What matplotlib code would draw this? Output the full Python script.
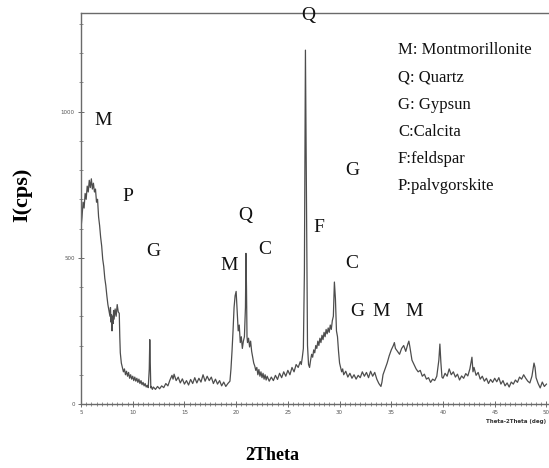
import matplotlib
matplotlib.use("Agg")
import matplotlib.pyplot as plt
from matplotlib.ticker import MultipleLocator

# ---- data ----
two_theta = [
    5.0, 5.1, 5.2, 5.3, 5.4, 5.5, 5.6, 5.7, 5.8, 5.9, 6.0, 6.1, 6.2, 6.3, 6.4, 6.5, 6.6, 6.7, 6.8, 6.9,
    7.0, 7.1, 7.2, 7.3, 7.4, 7.5, 7.6, 7.7, 7.8, 7.85, 7.9, 7.95, 8.0, 8.05, 8.1, 8.15, 8.2, 8.3, 8.4, 8.5,
    8.6, 8.7, 8.75, 8.8, 8.9, 9.0, 9.1, 9.2, 9.3, 9.4, 9.5, 9.6, 9.7, 9.8, 9.9, 10.0, 10.1, 10.2, 10.3, 10.4,
    10.5, 10.6, 10.7, 10.8, 10.9, 11.0, 11.1, 11.2, 11.3, 11.4, 11.5, 11.6, 11.65, 11.7, 11.75, 11.8, 11.9, 12.0, 12.2, 12.4,
    12.6, 12.8, 13.0, 13.2, 13.4, 13.6, 13.8, 13.9, 14.0, 14.2, 14.4, 14.6, 14.8, 15.0, 15.2, 15.4, 15.6, 15.8, 16.0, 16.2,
    16.4, 16.6, 16.8, 17.0, 17.2, 17.4, 17.6, 17.8, 18.0, 18.2, 18.4, 18.6, 18.8, 19.0, 19.2, 19.4, 19.5, 19.6, 19.7, 19.8,
    19.9, 20.0, 20.1, 20.2, 20.3, 20.4, 20.5, 20.6, 20.7, 20.8, 20.9, 20.95, 21.0, 21.05, 21.1, 21.2, 21.3, 21.4, 21.5, 21.6,
    21.7, 21.8, 21.9, 22.0, 22.1, 22.2, 22.3, 22.4, 22.5, 22.6, 22.7, 22.8, 22.9, 23.0, 23.2, 23.4, 23.6, 23.8, 24.0, 24.2,
    24.4, 24.6, 24.8, 25.0, 25.2, 25.4, 25.6, 25.8, 26.0, 26.2, 26.3, 26.4, 26.5, 26.6, 26.7, 26.8, 26.9, 27.0, 27.1, 27.2,
    27.3, 27.4, 27.5, 27.6, 27.7, 27.8, 27.9, 28.0, 28.1, 28.2, 28.3, 28.4, 28.5, 28.6, 28.7, 28.8, 28.9, 29.0, 29.1, 29.2,
    29.3, 29.4, 29.5, 29.6, 29.7, 29.8, 29.9, 30.0, 30.1, 30.2, 30.3, 30.4, 30.6, 30.8, 31.0, 31.2, 31.4, 31.6, 31.8, 32.0,
    32.2, 32.4, 32.6, 32.8, 33.0, 33.2, 33.4, 33.6, 33.8, 34.0, 34.1, 34.2, 34.4, 34.6, 34.8, 35.0, 35.2, 35.3, 35.4, 35.6,
    35.8, 36.0, 36.2, 36.4, 36.6, 36.7, 36.8, 37.0, 37.2, 37.4, 37.6, 37.8, 38.0, 38.2, 38.4, 38.6, 38.8, 39.0, 39.2, 39.4,
    39.6, 39.7, 39.8, 39.9, 40.0, 40.2, 40.4, 40.6, 40.8, 41.0, 41.2, 41.4, 41.6, 41.8, 42.0, 42.2, 42.4, 42.6, 42.8, 42.9,
    43.0, 43.2, 43.4, 43.6, 43.8, 44.0, 44.2, 44.4, 44.6, 44.8, 45.0, 45.2, 45.4, 45.6, 45.8, 46.0, 46.2, 46.4, 46.6, 46.8,
    47.0, 47.2, 47.4, 47.6, 47.8, 48.0, 48.2, 48.4, 48.6, 48.8, 48.9, 49.0, 49.2, 49.4, 49.6, 49.8, 50.0,
]
intensity = [
    600, 640, 690, 670, 720, 700, 745, 725, 765, 740, 770, 735, 755, 725, 735, 690, 700, 640, 610, 570,
    540, 495, 470, 430, 405, 370, 340, 320, 300, 330, 280, 305, 250, 300, 275, 320, 290, 325, 300, 340,
    315, 310, 230, 175, 140, 125, 110, 120, 100, 112, 95, 108, 88, 100, 85, 95, 80, 92, 78, 88,
    74, 85, 70, 80, 66, 74, 62, 70, 58, 64, 56, 120, 220, 130, 55, 60, 50, 58, 50, 60,
    52, 62, 56, 70, 62, 82, 98, 85, 102, 80, 92, 72, 86, 68, 80, 65, 84, 70, 90, 72,
    88, 75, 100, 78, 95, 80, 92, 70, 85, 68, 80, 62, 75, 60, 70, 78, 120, 180, 250, 330,
    370, 385, 320, 250, 270, 210, 230, 190, 215, 230, 330, 515, 400, 230, 210, 225, 195, 215, 180, 160,
    140, 130, 115, 125, 100, 118, 95, 110, 90, 105, 85, 100, 82, 95, 78, 92, 80, 98, 84, 105,
    90, 110, 95, 115, 100, 125, 110, 135, 125, 145, 135, 160, 190, 450, 1210, 700, 200, 135, 125, 150,
    170, 160, 185, 175, 200, 190, 215, 200, 225, 210, 235, 220, 245, 230, 255, 240, 260, 245, 270, 255,
    285, 300, 417, 360, 250, 230, 180, 140, 125, 110, 120, 100, 112, 92, 105, 88, 100, 85, 98, 90,
    110, 95, 108, 90, 112, 95, 108, 85, 70, 60, 75, 100, 120, 140, 165, 185, 200, 210, 190, 180,
    170, 190, 200, 180, 205, 215, 195, 150, 135, 120, 110, 115, 95, 102, 85, 90, 74, 85, 80, 95,
    150, 205, 140, 92, 88, 105, 95, 120, 100, 110, 92, 102, 82, 96, 88, 104, 96, 120, 160, 110,
    125, 98, 108, 85, 95, 78, 88, 70, 84, 74, 88, 76, 90, 68, 80, 62, 72, 58, 75, 68,
    82, 74, 92, 85, 100, 88, 78, 72, 95, 140, 125, 90, 70, 55, 75, 60, 68,
]

x_ticks = [5, 10, 15, 20, 25, 30, 35, 40, 45, 50]
y_ticks = [0, 500, 1000]

peak_labels = ["M", "P", "G", "Q", "M", "C", "Q", "F", "G", "C", "G", "M", "M"]
label_x = [7.13, 9.54, 11.96, 20.85, 19.3, 22.78, 26.93, 28.0, 31.2, 31.2, 31.7, 34.0, 37.2]
label_y = [971, 711, 520, 646, 475, 527, 1330, 605, 800, 482, 318, 318, 318]

legend_lines = ["M: Montmorillonite", "Q: Quartz", "G: Gypsun", "C:Calcita",
                "F:feldspar", "P:palvgorskite"]

# ---- figure ----
fig = plt.figure(figsize=(5.49, 4.68), dpi=100)
ax = fig.add_axes([81 / 549, 1 - 404 / 468, (549 - 81) / 549, (404 - 13) / 468])

ax.plot(two_theta, intensity, color="#4d4d4d", lw=0.9)
ax.set_xlim(5, 50.25)
ax.set_ylim(0, 1337)

ax.set_xticks(x_ticks)
ax.set_yticks(y_ticks)
ax.xaxis.set_minor_locator(MultipleLocator(0.5))
ax.yaxis.set_minor_locator(MultipleLocator(100))
ax.tick_params(which="major", direction="inout", length=5, width=0.6,
               labelsize=4, colors="#555555", pad=2)
ax.tick_params(which="minor", direction="inout", length=3, width=0.5, colors="#666666")

for side in ["top", "bottom", "left"]:
    ax.spines[side].set_color("#6a6a6a")
    ax.spines[side].set_linewidth(1.0)
ax.spines["right"].set_visible(False)

serif = ["Liberation Serif", "DejaVu Serif"]
for t, xx, yy in zip(peak_labels, label_x, label_y):
    ax.text(xx, yy, t, fontsize=14, family=serif, ha="center", va="center", color="#111111")

for i, line in enumerate(legend_lines):
    fig.text(398 / 549, 1 - (50 + i * 27.3) / 468, line, fontsize=12, family=serif,
             ha="left", va="center", color="#111111")

fig.text(272 / 549, 1 - 455 / 468, "2Theta", fontsize=13, family=serif,
         fontweight="bold", ha="center", va="center")
fig.text(22 / 549, 1 - 195 / 468, "I(cps)", fontsize=16, family=serif,
         fontweight="bold", ha="center", va="center", rotation=90)
fig.text(546 / 549, 1 - 421 / 468, "Theta-2Theta (deg)", fontsize=4, fontweight="bold",
         ha="right", va="center", color="#333333")

fig.savefig("out.png", dpi=100)
